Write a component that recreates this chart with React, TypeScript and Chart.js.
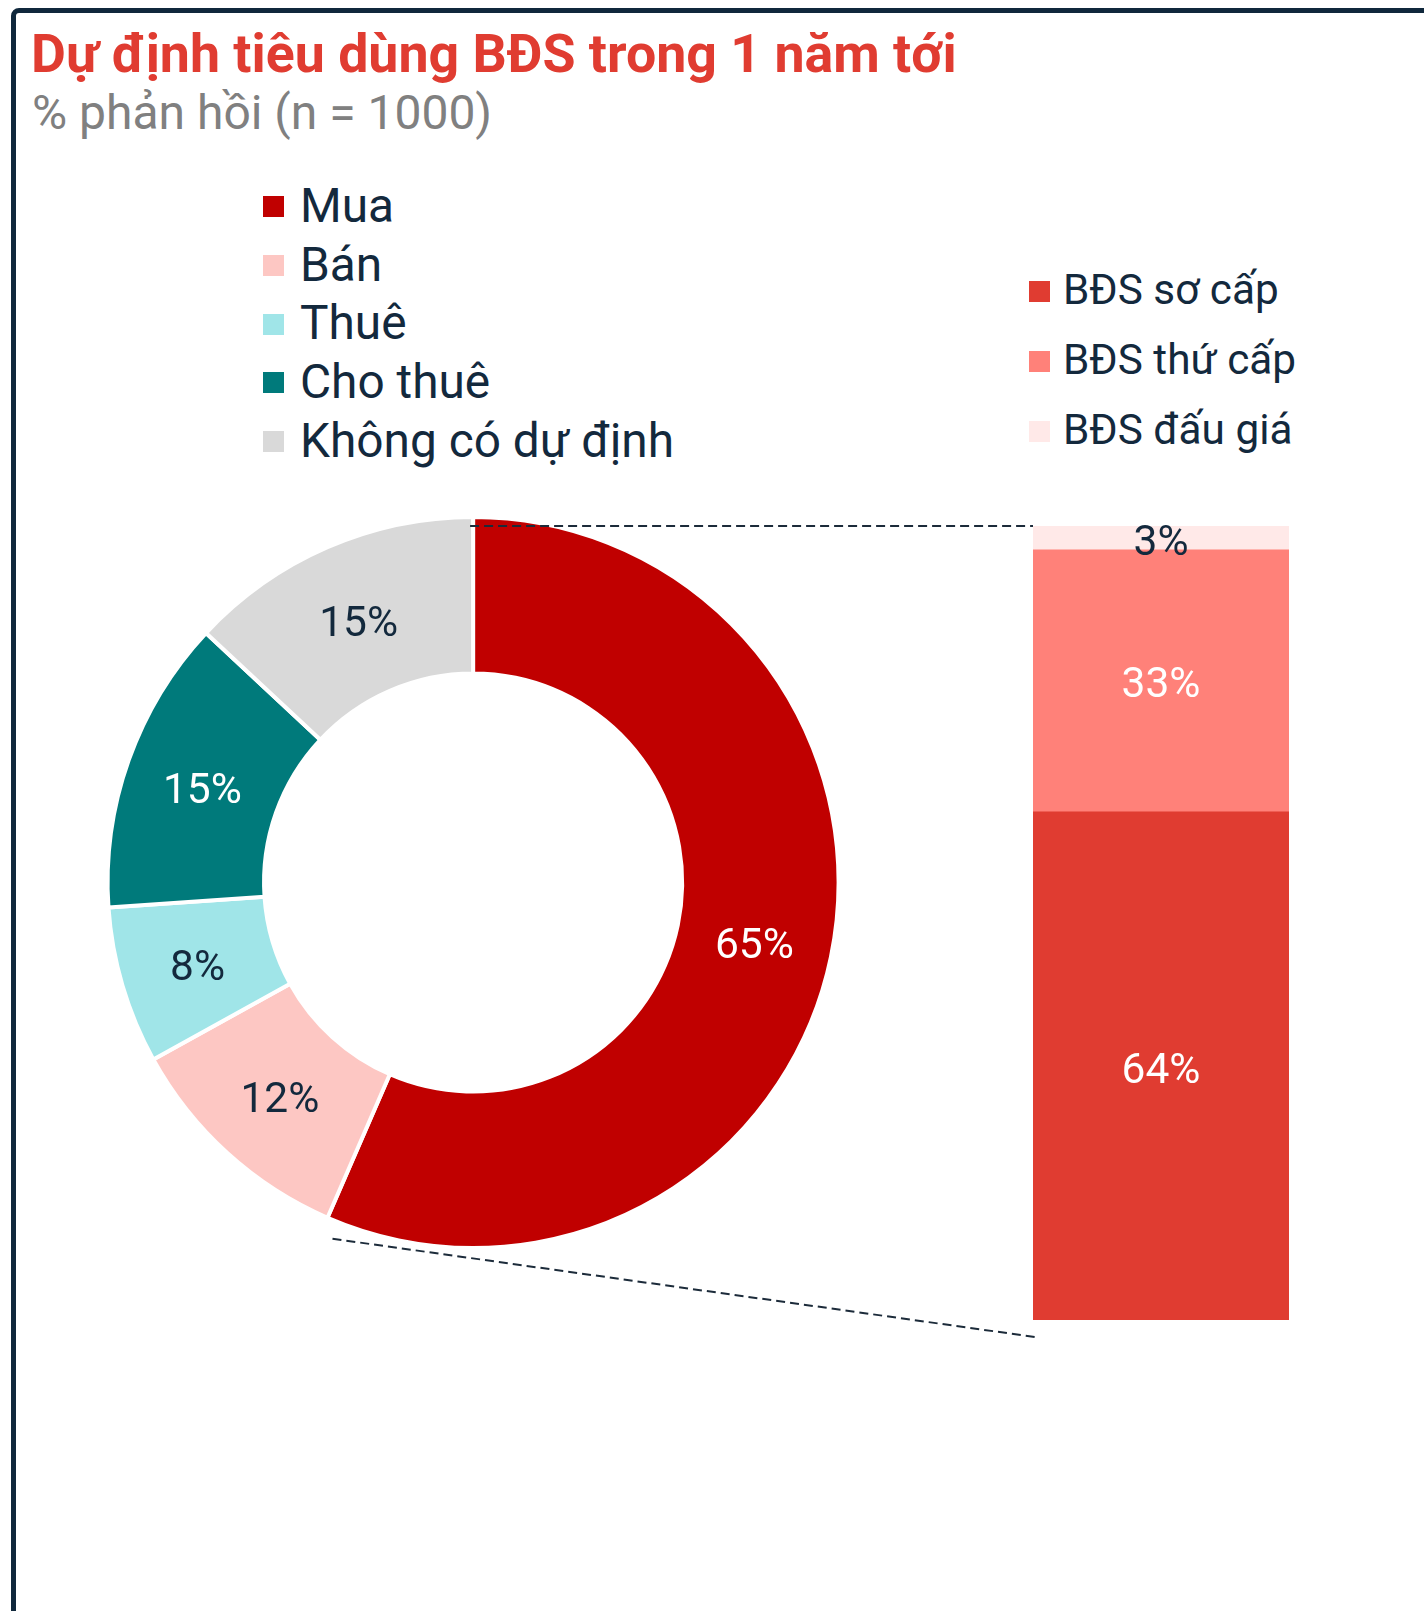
import React, { useEffect, useRef } from "react";
import { Chart, registerables } from "chart.js";

Chart.register(...registerables);

// ---------------- data ----------------
const TITLE = "Dự định tiêu dùng BĐS trong 1 năm tới";
const SUBTITLE = "% phản hồi (n = 1000)";

const intentLabels = ["Mua", "Bán", "Thuê", "Cho thuê", "Không có dự định"];
const intentValues = [65, 12, 8, 15, 15];

const buyCategories = ["Mua"];
const buyTypeLabels = ["BĐS sơ cấp", "BĐS thứ cấp", "BĐS đấu giá"];
const buyTypeValues = [64, 33, 3];

// ---------------- styles ----------------
const intentColors = ["#c00000", "#fdc7c3", "#a0e5e8", "#007a7b", "#d9d9d9"];
const intentLabelColors = ["#ffffff", "#13293d", "#13293d", "#ffffff", "#13293d"];
const buyColors = ["#e03c31", "#ff8179", "#ffe9e8"];
const buyLabelColors = ["#ffffff", "#ffffff", "#13293d"];

const FONT = "Roboto, 'Noto Sans', sans-serif";
const INK = "#13293d";
const LABEL_SIZE = 42.5;
const LABEL_SHIFT = 6;

// layout boxes (page pixels)
const DONUT_BOX = { left: 0, top: 470, width: 1424, height: 900 };
const DONUT_PAD = { left: 105.6, top: 45, right: 583.4, bottom: 120 };
const BAR_BOX = { left: 1000, top: 470, width: 330, height: 900 };
const BAR_PAD = { left: 33, top: 56, right: 41, bottom: 50 };

const barLabelPlugin = {
  id: "barLabels",
  afterDatasetsDraw(chart: any) {
    const ctx = chart.ctx;
    ctx.save();
    ctx.font = `400 ${LABEL_SIZE}px ${FONT}`;
    ctx.textAlign = "center";
    ctx.textBaseline = "middle";
    chart.data.datasets.forEach((ds: any, i: number) => {
      const meta = chart.getDatasetMeta(i);
      meta.data.forEach((el: any, j: number) => {
        const p = el.getProps(["x", "y", "base"], true);
        ctx.fillStyle = buyLabelColors[i];
        ctx.fillText(`${ds.data[j]}%`, p.x, (p.y + p.base) / 2 + LABEL_SHIFT);
      });
    });
    ctx.restore();
  },
};

function makeDonutPlugin(barChart: any) {
  return {
    id: "donutExtras",
    afterDatasetsDraw(chart: any) {
      const ctx = chart.ctx;
      const meta = chart.getDatasetMeta(0);
      ctx.save();
      // slice labels
      ctx.font = `400 ${LABEL_SIZE}px ${FONT}`;
      ctx.textAlign = "center";
      ctx.textBaseline = "middle";
      meta.data.forEach((arc: any, i: number) => {
        const p = arc.tooltipPosition(true);
        ctx.fillStyle = intentLabelColors[i];
        ctx.fillText(`${intentValues[i]}%`, p.x, p.y + LABEL_SHIFT);
      });
      // connectors to the bar
      const dx = BAR_BOX.left - DONUT_BOX.left;
      const dy = BAR_BOX.top - DONUT_BOX.top;
      const nSets = barChart.data.datasets.length;
      const bottomBar = barChart.getDatasetMeta(0).data[0].getProps(["x", "y", "base", "width"], true);
      const topBar = barChart.getDatasetMeta(nSets - 1).data[0].getProps(["x", "y", "base", "width"], true);
      const barLeft = bottomBar.x - bottomBar.width / 2 + dx;
      const barTop = topBar.y + dy;
      const barBottom = bottomBar.base + dy;
      const first = meta.data[0].getProps(["x", "y", "startAngle", "endAngle", "outerRadius"], true);
      const ex = first.x + Math.cos(first.endAngle) * first.outerRadius;
      const ey = first.y + Math.sin(first.endAngle) * first.outerRadius;
      ctx.strokeStyle = "#1c2b3a";
      ctx.lineWidth = 2;
      ctx.setLineDash([9, 5]);
      ctx.beginPath();
      ctx.moveTo(first.x - 3, barTop);
      ctx.lineTo(barLeft, barTop);
      ctx.stroke();
      ctx.beginPath();
      ctx.moveTo(ex + 5, ey + 21);
      ctx.lineTo(barLeft + 2, barBottom + 17);
      ctx.stroke();
      ctx.restore();
    },
  };
}

function baselineTop(baseline: number, size: number) {
  return baseline - 0.842 * size;
}

export default function App() {
  const donutRef = useRef<HTMLCanvasElement>(null);
  const barRef = useRef<HTMLCanvasElement>(null);

  useEffect(() => {
    if (!donutRef.current || !barRef.current) return;
    const barChart = new Chart(barRef.current, {
      type: "bar",
      data: {
        labels: buyCategories,
        datasets: buyTypeLabels.map((label, i) => ({
          label,
          data: [buyTypeValues[i]],
          backgroundColor: buyColors[i],
          borderWidth: 0,
          barPercentage: 1,
          categoryPercentage: 1,
        })),
      },
      options: {
        responsive: false,
        maintainAspectRatio: false,
        animation: false,
        devicePixelRatio: 1,
        events: [],
        layout: { padding: BAR_PAD },
        plugins: { legend: { display: false }, tooltip: { enabled: false } },
        scales: {
          x: { display: false, stacked: true },
          y: {
            display: false,
            stacked: true,
            min: 0,
            max: buyTypeValues.reduce((a, b) => a + b, 0),
          },
        },
      },
      plugins: [barLabelPlugin],
    } as any);

    const donutChart = new Chart(donutRef.current, {
      type: "doughnut",
      data: {
        labels: intentLabels,
        datasets: [
          {
            data: intentValues,
            backgroundColor: intentColors,
            borderColor: "#ffffff",
            borderWidth: 4,
            hoverBorderWidth: 4,
            hoverOffset: 0,
          },
        ],
      },
      options: {
        responsive: false,
        maintainAspectRatio: false,
        animation: false,
        devicePixelRatio: 1,
        events: [],
        cutout: "57.2%",
        layout: { padding: DONUT_PAD },
        plugins: { legend: { display: false }, tooltip: { enabled: false } },
      },
      plugins: [makeDonutPlugin(barChart)],
    } as any);

    return () => {
      donutChart.destroy();
      barChart.destroy();
    };
  }, []);

  const titleSize = 53.7;
  const subSize = 48;
  const leg1Size = 47.8;
  const leg2Size = 42.3;

  return (
    <div
      style={{
        position: "absolute",
        left: 0,
        top: 0,
        width: 1424,
        height: 1611,
        overflow: "hidden",
        background: "#ffffff",
        fontFamily: FONT,
      }}
    >
      <div
        style={{
          position: "absolute",
          left: 11,
          top: 8,
          width: 1600,
          height: 1800,
          border: "5px solid #10283c",
          borderRadius: 8,
          boxSizing: "border-box",
        }}
      />
      <div
        style={{
          position: "absolute",
          left: 31,
          top: baselineTop(72, titleSize),
          fontSize: titleSize,
          lineHeight: `${titleSize}px`,
          fontWeight: 700,
          color: "#e03c31",
          whiteSpace: "nowrap",
        }}
      >
        {TITLE}
      </div>
      <div
        style={{
          position: "absolute",
          left: 32,
          top: baselineTop(129, subSize),
          fontSize: subSize,
          lineHeight: `${subSize}px`,
          fontWeight: 400,
          color: "#808080",
          whiteSpace: "nowrap",
        }}
      >
        {SUBTITLE}
      </div>

      {intentLabels.map((label, i) => (
        <React.Fragment key={label}>
          <div
            style={{
              position: "absolute",
              left: 263,
              top: 196 + i * 58.8,
              width: 21,
              height: 21,
              background: intentColors[i],
            }}
          />
          <div
            style={{
              position: "absolute",
              left: 300,
              top: baselineTop(223 + i * 58.8, leg1Size),
              fontSize: leg1Size,
              lineHeight: `${leg1Size}px`,
              color: INK,
              whiteSpace: "nowrap",
            }}
          >
            {label}
          </div>
        </React.Fragment>
      ))}

      {buyTypeLabels.map((label, i) => (
        <React.Fragment key={label}>
          <div
            style={{
              position: "absolute",
              left: 1029,
              top: 281 + i * 70,
              width: 21,
              height: 21,
              background: buyColors[i],
            }}
          />
          <div
            style={{
              position: "absolute",
              left: 1063,
              top: baselineTop(305 + i * 70, leg2Size),
              fontSize: leg2Size,
              lineHeight: `${leg2Size}px`,
              color: INK,
              whiteSpace: "nowrap",
            }}
          >
            {label}
          </div>
        </React.Fragment>
      ))}

      <canvas
        ref={donutRef}
        width={DONUT_BOX.width}
        height={DONUT_BOX.height}
        style={{
          position: "absolute",
          left: DONUT_BOX.left,
          top: DONUT_BOX.top,
          width: DONUT_BOX.width,
          height: DONUT_BOX.height,
        }}
      />
      <canvas
        ref={barRef}
        width={BAR_BOX.width}
        height={BAR_BOX.height}
        style={{
          position: "absolute",
          left: BAR_BOX.left,
          top: BAR_BOX.top,
          width: BAR_BOX.width,
          height: BAR_BOX.height,
        }}
      />
    </div>
  );
}
